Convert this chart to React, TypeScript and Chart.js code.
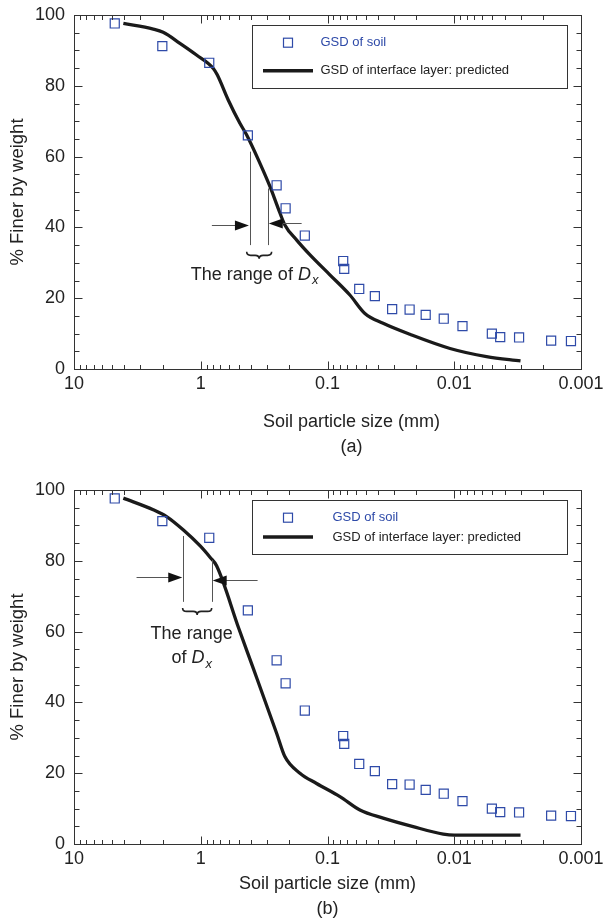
import React, { useEffect, useRef } from 'react';
import { Chart, registerables } from 'chart.js';

Chart.register(...registerables);

const FONT = "'Liberation Sans', Arial, Helvetica, sans-serif";
const TEXT = '#222222';
const BLUE = '#2e4aa8';

// ---- data ----
const xTickValues = [10, 1, 0.1, 0.01, 0.001];
const xTickLabels = ['10', '1', '0.1', '0.01', '0.001'];

const soilSize = [4.77, 2.01, 0.857, 0.425, 0.252, 0.214, 0.151, 0.0752, 0.0738, 0.0562, 0.0423, 0.0309, 0.0225, 0.0168, 0.0121, 0.00861, 0.00505, 0.00434, 0.00308, 0.00172, 0.0012];
const soilFiner = [97.6, 91.2, 86.5, 66.0, 51.9, 45.4, 37.7, 30.5, 28.3, 22.6, 20.6, 16.9, 16.8, 15.3, 14.2, 12.1, 10.0, 9.0, 8.9, 8.0, 7.9];

const interfaceSizeA = [4.08, 2.37, 1.98, 1.46, 1.08, 0.796, 0.741, 0.607, 0.491, 0.434, 0.341, 0.284, 0.245, 0.217, 0.175, 0.138, 0.0958, 0.0666, 0.0507, 0.0364, 0.0224, 0.0108, 0.00556, 0.003];
const interfaceFinerA = [97.6, 96.0, 95.1, 92.0, 88.7, 84.9, 83.1, 76.0, 69.4, 66.1, 58.1, 51.5, 45.4, 40.7, 36.4, 32.3, 26.6, 20.9, 15.7, 12.9, 9.8, 5.8, 3.5, 2.3];

const interfaceSizeB = [4.08, 2.37, 1.86, 1.37, 1.01, 0.845, 0.75, 0.5, 0.385, 0.252, 0.217, 0.165, 0.122, 0.0798, 0.0555, 0.0364, 0.0211, 0.0122, 0.01, 0.003];
const interfaceFinerB = [97.7, 94.4, 92.5, 88.7, 84.2, 81.0, 78.6, 60.8, 49.6, 31.3, 24.7, 20.0, 17.1, 13.4, 9.6, 7.3, 4.9, 2.8, 2.5, 2.5];

const legendLabels = ['GSD of soil', 'GSD of interface layer: predicted'];
const yTitle = '% Finer by weight';
const xTitleA = ['Soil particle size (mm)', '(a)'];
const xTitleB = ['Soil particle size (mm)', '(b)'];

// annotation geometry in data units
const rangeLinesA = [[0.409, 61.4, 35.0], [0.296, 51.0, 35.0]];
const rangeArrowsA = [[0.817, 0.409, 40.8], [0.16, 0.296, 41.2]];
const rangeBraceA = [0.434, 0.276, 33.1];
const rangeTextA = [{ x: 0.376, y: 26.6, lines: [['The range of ', 'D', 'x']] }];

const rangeLinesB = [[1.374, 87.0, 68.4], [0.82, 80.2, 68.4]];
const rangeArrowsB = [[3.21, 1.374, 75.3], [0.356, 0.82, 74.7]];
const rangeBraceB = [1.39, 0.82, 66.7];
const rangeTextB = [{ x: 1.18, y: 59.3, lines: [['The range', '', '']] }, { x: 1.18, y: 52.5, lines: [['of ', 'D', 'x']] }];

type Panel = {
  top: number;
  height: number;
  lineSize: number[];
  lineFiner: number[];
  legend: { box: number[]; markerX: number; textX: number; row1: number; row2: number; lx1: number; lx2: number };
  xTitle: { lines: string[]; x: number; ys: number[] };
  lines: number[][];
  arrows: number[][];
  brace: number[];
  texts: { x: number; y: number; lines: string[][] }[];
};

const panels: Panel[] = [
  {
    top: 0,
    height: 475,
    lineSize: interfaceSizeA,
    lineFiner: interfaceFinerA,
    legend: { box: [252, 25, 566.5, 88.3], markerX: 288, textX: 320.5, row1: 42.7, row2: 70.7, lx1: 263, lx2: 313 },
    xTitle: { lines: xTitleA, x: 351.5, ys: [422, 447] },
    lines: rangeLinesA,
    arrows: rangeArrowsA,
    brace: rangeBraceA,
    texts: rangeTextA,
  },
  {
    top: 475,
    height: 444,
    lineSize: interfaceSizeB,
    lineFiner: interfaceFinerB,
    legend: { box: [252, 25, 566.5, 79.3], markerX: 288, textX: 332.5, row1: 42.7, row2: 62, lx1: 263, lx2: 313 },
    xTitle: { lines: xTitleB, x: 327.5, ys: [409, 434] },
    lines: rangeLinesB,
    arrows: rangeArrowsB,
    brace: rangeBraceB,
    texts: rangeTextB,
  },
];

function makePlugin(p: Panel) {
  return {
    id: 'decor',
    afterDatasetsDraw(chart: any) {
      const { ctx, chartArea: a, scales } = chart;
      const xs = scales.x;
      const ys = scales.y;
      const X = (v: number) => xs.getPixelForValue(v);
      const Y = (v: number) => ys.getPixelForValue(v);
      ctx.save();

      // frame
      const L = Math.round(a.left) + 0.5;
      const R = Math.round(a.right) + 0.5;
      const T = Math.round(a.top) + 0.5;
      const B = Math.round(a.bottom) + 0.5;
      ctx.strokeStyle = '#333';
      ctx.lineWidth = 1;
      ctx.strokeRect(L, T, R - L, B - T);

      // log x ticks (inside, top and bottom)
      ctx.beginPath();
      for (let k = -3; k <= 0; k++) {
        for (let m = 1; m <= 9; m++) {
          const v = m * Math.pow(10, k);
          const px = Math.round(X(v)) + 0.5;
          const len = m === 1 ? 8 : 4.5;
          ctx.moveTo(px, B);
          ctx.lineTo(px, B - len);
          ctx.moveTo(px, T);
          ctx.lineTo(px, T + len);
        }
      }
      // y ticks every 5 (inside, left and right)
      for (let v = 0; v <= 100; v += 5) {
        const py = Math.round(Y(v)) + 0.5;
        const len = v % 20 === 0 ? 8 : 5;
        ctx.moveTo(L, py);
        ctx.lineTo(L + len, py);
        ctx.moveTo(R, py);
        ctx.lineTo(R - len, py);
      }
      ctx.stroke();

      // legend
      const lg = p.legend;
      ctx.strokeStyle = '#333';
      ctx.lineWidth = 1;
      ctx.strokeRect(Math.round(lg.box[0]) + 0.5, Math.round(lg.box[1]) + 0.5, Math.round(lg.box[2] - lg.box[0]), Math.round(lg.box[3] - lg.box[1]));
      ctx.strokeStyle = BLUE;
      ctx.lineWidth = 1.2;
      ctx.strokeRect(lg.markerX - 4.5, lg.row1 - 4.5, 9, 9);
      ctx.strokeStyle = '#1a1a1a';
      ctx.lineWidth = 3.4;
      ctx.beginPath();
      ctx.moveTo(lg.lx1, lg.row2);
      ctx.lineTo(lg.lx2, lg.row2);
      ctx.stroke();
      ctx.font = `13px ${FONT}`;
      ctx.textAlign = 'left';
      ctx.textBaseline = 'middle';
      ctx.fillStyle = BLUE;
      ctx.fillText(legendLabels[0], lg.textX, lg.row1);
      ctx.fillStyle = TEXT;
      ctx.fillText(legendLabels[1], lg.textX, lg.row2);

      // range lines
      ctx.strokeStyle = '#555';
      ctx.lineWidth = 1;
      ctx.beginPath();
      for (const [xv, y1, y2] of p.lines) {
        const px = Math.round(X(xv)) + 0.5;
        ctx.moveTo(px, Y(y1));
        ctx.lineTo(px, Y(y2));
      }
      ctx.stroke();

      // arrows
      for (const [x0, x1, yv] of p.arrows) {
        const sx = X(x0);
        const tx = X(x1);
        const py = Math.round(Y(yv)) + 0.5;
        const dir = tx > sx ? 1 : -1;
        const head = 14;
        ctx.strokeStyle = '#555';
        ctx.lineWidth = 1;
        ctx.beginPath();
        ctx.moveTo(sx, py);
        ctx.lineTo(tx - dir * head, py);
        ctx.stroke();
        ctx.fillStyle = '#111';
        ctx.beginPath();
        ctx.moveTo(tx - dir * 1, py);
        ctx.lineTo(tx - dir * (head + 1), py - 5);
        ctx.lineTo(tx - dir * (head + 1), py + 5);
        ctx.closePath();
        ctx.fill();
      }

      // brace
      {
        const [bx1, bx2, by] = p.brace;
        const x1 = X(bx1);
        const x2 = X(bx2);
        const y0 = Y(by);
        const d = 7;
        const h = d / 2;
        const xm = (x1 + x2) / 2;
        const r = 4;
        ctx.strokeStyle = '#222';
        ctx.lineWidth = 1.6;
        ctx.beginPath();
        ctx.moveTo(x1, y0);
        ctx.quadraticCurveTo(x1, y0 + h, x1 + r, y0 + h);
        ctx.lineTo(xm - r, y0 + h);
        ctx.quadraticCurveTo(xm, y0 + h, xm, y0 + d);
        ctx.quadraticCurveTo(xm, y0 + h, xm + r, y0 + h);
        ctx.lineTo(x2 - r, y0 + h);
        ctx.quadraticCurveTo(x2, y0 + h, x2, y0);
        ctx.stroke();
      }

      // range text
      ctx.fillStyle = TEXT;
      ctx.textBaseline = 'middle';
      ctx.textAlign = 'left';
      for (const t of p.texts) {
        for (const [plain, ital, sub] of t.lines) {
          const fN = `18px ${FONT}`;
          const fI = `italic 18px ${FONT}`;
          const fS = `italic 13px ${FONT}`;
          ctx.font = fN;
          const w1 = ctx.measureText(plain).width;
          ctx.font = fI;
          const w2 = ital ? ctx.measureText(ital).width : 0;
          ctx.font = fS;
          const w3 = sub ? ctx.measureText(sub).width + 1 : 0;
          let cx = X(t.x) - (w1 + w2 + w3) / 2;
          const cy = Y(t.y);
          ctx.font = fN;
          ctx.fillText(plain, cx, cy);
          cx += w1;
          if (ital) {
            ctx.font = fI;
            ctx.fillText(ital, cx, cy);
            cx += w2 + 1;
          }
          if (sub) {
            ctx.font = fS;
            ctx.fillText(sub, cx, cy + 6);
          }
        }
      }

      // x title
      ctx.font = `18px ${FONT}`;
      ctx.textAlign = 'center';
      ctx.textBaseline = 'middle';
      ctx.fillStyle = TEXT;
      p.xTitle.lines.forEach((s, i) => ctx.fillText(s, p.xTitle.x, p.xTitle.ys[i]));

      ctx.restore();
    },
  };
}

function makeConfig(p: Panel): any {
  const soilData = soilSize.map((x, i) => ({ x, y: soilFiner[i] }));
  const lineData = p.lineSize.map((x, i) => ({ x, y: p.lineFiner[i] }));
  return {
    type: 'scatter',
    data: {
      datasets: [
        {
          label: legendLabels[1],
          data: lineData,
          showLine: true,
          borderColor: '#1a1a1a',
          borderWidth: 3.3,
          pointRadius: 0,
          cubicInterpolationMode: 'monotone',
          order: 2,
        },
        {
          label: legendLabels[0],
          data: soilData,
          showLine: false,
          pointStyle: 'rect',
          pointRadius: 6.4,
          pointBorderWidth: 1.2,
          borderColor: BLUE,
          backgroundColor: 'rgba(0,0,0,0)',
          order: 1,
        },
      ],
    },
    options: {
      responsive: false,
      maintainAspectRatio: false,
      animation: false,
      devicePixelRatio: 1,
      layout: { padding: { top: 15, right: 22, left: 0, bottom: 0 } },
      plugins: { legend: { display: false }, tooltip: { enabled: false } },
      scales: {
        x: {
          type: 'logarithmic',
          reverse: true,
          min: 0.001,
          max: 10,
          grid: { display: false, drawTicks: false },
          border: { display: false },
          afterBuildTicks: (s: any) => {
            s.ticks = xTickValues.map((v) => ({ value: v }));
          },
          afterFit: (s: any) => {
            s.height = p.height - 369;
            s.paddingLeft = 0;
            s.paddingRight = 0;
          },
          ticks: {
            autoSkip: false,
            maxRotation: 0,
            minRotation: 0,
            padding: 4,
            color: TEXT,
            font: { family: FONT, size: 18 },
            callback: (v: number) => {
              const i = xTickValues.findIndex((t) => Math.abs(Math.log10(t) - Math.log10(v)) < 1e-6);
              return i >= 0 ? xTickLabels[i] : '';
            },
          },
        },
        y: {
          min: 0,
          max: 100,
          grid: { display: false, drawTicks: false },
          border: { display: false },
          afterFit: (s: any) => {
            s.width = 74;
            s.paddingTop = 0;
            s.paddingBottom = 0;
          },
          ticks: {
            stepSize: 20,
            padding: 9,
            color: TEXT,
            font: { family: FONT, size: 18 },
          },
          title: {
            display: true,
            text: yTitle,
            color: TEXT,
            font: { family: FONT, size: 18.5 },
            padding: { top: 7, bottom: 0 },
          },
        },
      },
    },
    plugins: [makePlugin(p)],
  };
}

function PanelChart({ p }: { p: Panel }) {
  const ref = useRef<HTMLCanvasElement | null>(null);
  useEffect(() => {
    if (!ref.current) return;
    const chart = new Chart(ref.current, makeConfig(p));
    return () => chart.destroy();
  }, [p]);
  return (
    <canvas
      ref={ref}
      width={603}
      height={p.height}
      style={{ position: 'absolute', left: 0, top: p.top, width: 603, height: p.height, display: 'block' }}
    />
  );
}

export default function App() {
  return (
    <div style={{ position: 'absolute', left: 0, top: 0, width: 603, height: 919, background: '#ffffff' }}>
      {panels.map((p, i) => (
        <PanelChart key={i} p={p} />
      ))}
    </div>
  );
}
